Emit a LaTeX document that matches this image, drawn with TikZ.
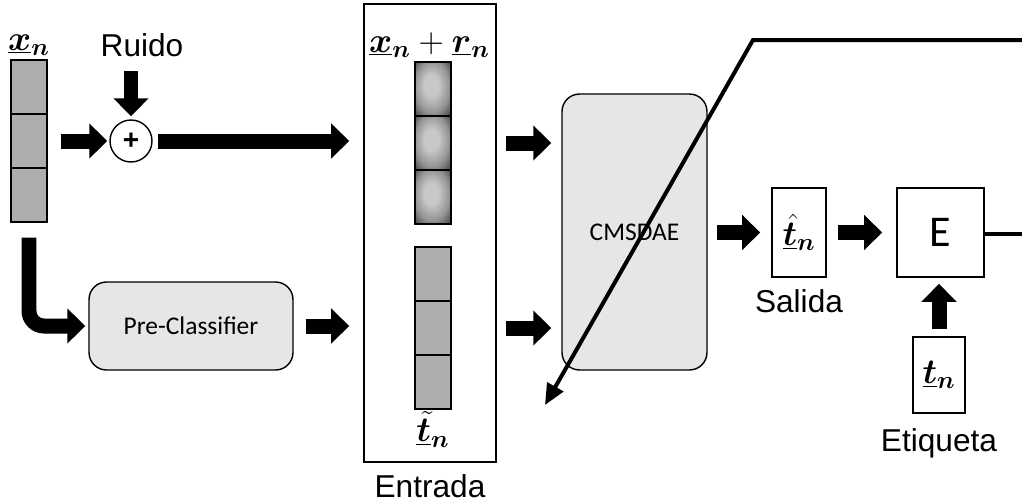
\documentclass[tikz,border=0pt]{standalone}
\usepackage{fix-cm}
\usepackage{fontspec}
\usepackage{bm}
\usetikzlibrary{positioning,arrows.meta}
\setmainfont{Liberation Sans}
\newfontfamily\calibri{Carlito}
\definecolor{cellgray}{RGB}{176,173,173}
\definecolor{blockgray}{RGB}{230,230,230}
\definecolor{noiselight}{RGB}{202,199,201}
\definecolor{noisemid}{RGB}{150,147,148}
\definecolor{noisedark}{RGB}{80,78,78}
\pgfdeclareradialshading{noise}{\pgfpoint{-3bp}{4bp}}{%
  color(0bp)=(noiselight); color(10bp)=(noiselight); color(24bp)=(noisemid);
  color(34bp)=(noisedark); color(50bp)=(noisedark)}
\tikzset{
  cell/.style={draw, fill=cellgray, line width=0.7pt, inner sep=0pt,
    minimum width=0.72cm, minimum height=1.08cm},
  noisecell/.style={cell, shading=noise},
  frame/.style={draw, line width=0.9pt, inner sep=0pt},
  block/.style={draw, line width=0.8pt, fill=blockgray, rounded corners=0.35cm,
    font=\calibri\fontsize{14.5}{17}\selectfont},
  mathtext/.style={font=\fontsize{20}{24}\selectfont, inner sep=1pt},
  sidetext/.style={font=\fontsize{18}{21}\selectfont},
  bigarrow/.style={line width=0.3cm, -{Triangle[length=0.36cm,width=0.68cm]}},
  backprop/.style={line width=0.08cm, -{Triangle[length=0.42cm,width=0.36cm]}},
}

\begin{document}
\begin{tikzpicture}[x=0.02cm, y=-0.02cm]
  \useasboundingbox (0,0) rectangle (1022,504);
  % clean input vector
  \foreach \i in {1,2,3}
    \node[cell] (x\i) at (29,33+54*\i) {};
  \node[mathtext, above=1pt of x1] (xlab) {$\underline{\bm{x}}_{\bm{n}}$};
  \node[sidetext] (ruido) at (142,45) {Ruido};
  \node[draw, circle, line width=0.8pt, minimum size=0.84cm, inner sep=0pt,
    font=\fontsize{16}{18}\selectfont\bfseries] (sum) at (131,141) {+};

  % network input
  \node[frame, minimum width=2.64cm, minimum height=9.16cm] (entrada) at (430,233) {};
  \node[sidetext, below=3pt of entrada] (entlab) {Entrada};
  \foreach \i in {1,2,3} {
    \node[noisecell] (u\i) at (433,35+54*\i) {};
    \node[cell] (l\i) at (433,220+54*\i) {};
  }
  \node[mathtext, above=1pt of u1, xshift=-2pt] (ulab)
    {$\underline{\bm{x}}_{\bm{n}}+\underline{\bm{r}}_{\bm{n}}$};
  \node[mathtext, below=0pt of l3] (llab) {$\underline{\tilde{\bm{t}}}_{\bm{n}}$};

  \node[block, minimum width=4.08cm, minimum height=1.76cm] (pre) at (191,326) {Pre-Classifier};
  \node[block, minimum width=2.9cm, minimum height=5.52cm] (ae) at (634.5,232) {CMSDAE};

  % output and error
  \node[frame, minimum width=1.08cm, minimum height=1.78cm, mathtext] (that) at (799,232.5)
    {$\underline{\hat{\bm{t}}}_{\bm{n}}$};
  \node[sidetext, below=3pt of that] (outlab) {Salida};
  \node[frame, minimum width=1.74cm, minimum height=1.78cm,
    font=\calibri\fontsize{25}{30}\selectfont] (err) at (940.5,232.5) {E};
  \node[frame, minimum width=1.04cm, minimum height=1.52cm, mathtext] (tn) at (939,375)
    {$\underline{\bm{t}}_{\bm{n}}$};
  \node[sidetext, below=5pt of tn] (tnlab) {Etiqueta};

  \coordinate (eout) at (1022,234);
  \coordinate (bpstart) at (1022,40);
  \coordinate (bpbend) at (753,40);
  \coordinate (bptip) at (545,405);

  \draw[bigarrow, shorten <=0.16cm, shorten >=0.06cm] (ruido.south -| sum) -- (sum.north);
  \draw[bigarrow, shorten <=0.26cm, shorten >=0.04cm] (x2.east) -- (sum.west);
  \draw[bigarrow, shorten <=0.1cm, shorten >=0.28cm] (sum.east) -- (sum.east -| entrada.west);
  \draw[bigarrow, rounded corners=0.3cm, shorten <=0.3cm, shorten >=0.06cm] (x3.south) |- (pre.west);
  \draw[bigarrow, shorten <=0.24cm, shorten >=0.28cm] (pre.east) -- (pre.east -| entrada.west);
  \draw[bigarrow, shorten <=0.18cm, shorten >=0.2cm] (entrada.east |- u2) -- (ae.west |- u2);
  \draw[bigarrow, shorten <=0.18cm, shorten >=0.2cm] (entrada.east |- l2) -- (ae.west |- l2);
  \draw[bigarrow, shorten <=0.18cm, shorten >=0.22cm] (ae.east |- that) -- (that.west);
  \draw[bigarrow, shorten <=0.22cm, shorten >=0.28cm] (that.east) -- (err.west);
  \draw[bigarrow, shorten <=0.14cm, shorten >=0.12cm] (tn.north) -- (tn.north |- err.south);
  \draw[line width=0.08cm] (err.east |- eout) -- (eout);
  % error fed back through the network
  \draw[backprop] (bpstart) -- (bpbend) -- (bptip);
\end{tikzpicture}
\end{document}
